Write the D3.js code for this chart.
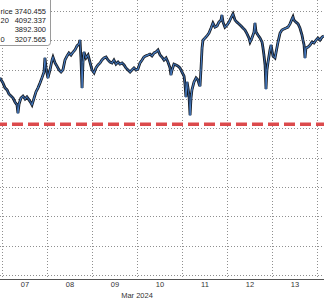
<!DOCTYPE html>
<html><head><meta charset="utf-8">
<script src="https://cdn.jsdelivr.net/npm/d3@7"></script>
<style>html,body{margin:0;padding:0;background:#fff;overflow:hidden}svg{display:block}</style>
</head><body><svg id="c" width="324" height="299"></svg>
<script>
// hours since 2024-03-07 00:00 UTC
const hours = [-1.1,0.5,1.6,2.7,3.7,4.8,5.9,6.9,8.0,8.5,9.1,10.1,11.2,12.3,13.3,14.4,15.5,16.0,17.1,18.1,19.2,20.3,21.3,22.4,22.9,23.5,24.5,25.6,26.7,27.2,28.3,29.3,30.4,31.5,32.5,33.6,34.7,35.7,36.8,37.9,38.9,40.0,41.1,41.6,42.1,42.7,43.2,43.7,44.8,45.9,46.9,48.0,49.1,50.1,51.2,52.3,53.3,54.4,55.5,56.5,57.6,58.7,59.7,60.8,61.9,62.9,64.0,65.1,66.1,67.2,68.3,69.3,70.4,71.5,72.5,73.6,74.7,75.7,76.8,77.9,78.9,80.0,81.1,82.1,83.2,84.3,85.3,86.4,87.5,88.5,89.6,90.1,90.7,91.7,92.8,93.9,94.9,96.0,97.1,97.6,98.1,98.7,99.2,99.7,100.3,100.8,101.3,102.4,103.5,104.5,105.1,105.6,106.1,106.7,107.2,108.3,109.3,110.4,111.5,112.5,113.6,114.7,115.7,116.8,117.3,117.9,118.9,120.0,121.1,122.1,123.2,124.3,125.3,126.4,127.5,128.5,129.6,130.7,131.7,132.3,133.3,134.4,134.9,135.5,136.5,137.6,138.7,139.2,139.7,140.3,140.8,141.3,141.9,142.9,143.5,144.5,145.6,146.1,147.2,148.3,149.3,150.4,151.5,152.5,153.6,154.7,155.2,155.7,156.8,157.9,158.9,160.0,160.5,161.1,161.6,162.1,163.2,164.3,165.3,166.4,167.5,168.5,169.6,170.7,171.7];
const prices = [3872,3855,3838,3831,3817,3810,3803,3790,3780,3752,3783,3803,3810,3800,3807,3797,3786,3780,3803,3824,3838,3855,3872,3892,3940,3906,3872,3899,3933,3943,3923,3912,3899,3892,3899,3933,3947,3957,3950,3960,3967,3981,3988,4001,3940,3838,3926,3960,3940,3950,3926,3899,3889,3906,3916,3923,3933,3940,3943,3933,3926,3923,3933,3919,3926,3919,3923,3916,3906,3899,3892,3899,3906,3899,3902,3923,3933,3943,3947,3950,3953,3947,3957,3960,3967,3950,3943,3933,3940,3926,3906,3882,3899,3919,3916,3912,3906,3892,3878,3851,3807,3858,3838,3814,3745,3803,3831,3858,3872,3865,3851,3844,3899,3974,4001,4008,4015,4025,4042,4059,4045,4049,4062,4069,4086,4062,4045,4052,4062,4076,4090,4069,4062,4056,4049,4042,4035,4022,4008,3994,4008,4028,4059,4028,4018,4008,3994,3974,3950,3916,3834,3899,3926,3967,3984,3947,3940,3957,3994,4025,4035,4039,4042,4045,4056,4073,4080,4069,4062,4056,4042,4018,4001,3984,3940,3974,3977,3984,3994,3991,4001,4008,4001,4011,4015];
const refLevel = 3714;
const dayLabels = ["07","08","09","10","11","12","13"];
const yTicks = [3200,3300,3400,3500,3600,3700,3800,3900,4000,4100];
// legend labels as visible in the cropped reference (left part is cut off there)
const legendLabels = ["rice","20","","0"];
const legendValues = ["3740.455","4092.337","3892.300","3207.565"];
const monthLabel = "Mar 2024";

const t0 = Date.UTC(2024,2,7);
const svg = d3.select("#c");
const x = d3.scaleUtc().domain([new Date(t0), new Date(Date.UTC(2024,2,14))]).range([2, 317]);
const y = d3.scaleLinear().domain([3200, 4100]).range([275, 11]);
const font = "'Liberation Sans', Arial, sans-serif";

// grid
const dayBounds = d3.utcDay.range(new Date(t0), new Date(Date.UTC(2024,2,14,1)));
svg.append("g").selectAll("line").data(dayBounds).join("line")
  .attr("x1", d => Math.round(x(d)) + 0.5).attr("x2", d => Math.round(x(d)) + 0.5)
  .attr("y1", 0).attr("y2", 279)
  .attr("stroke", "#8f8f8f").attr("stroke-width", 1).attr("stroke-dasharray", "1,2");
svg.append("g").selectAll("line").data(yTicks).join("line")
  .attr("x1", 0).attr("x2", 324)
  .attr("y1", d => Math.round(y(d)) + 0.5).attr("y2", d => Math.round(y(d)) + 0.5)
  .attr("stroke", "#8f8f8f").attr("stroke-width", 1).attr("stroke-dasharray", "1,2");

// red reference line
svg.append("line").attr("x1", -4).attr("x2", 324)
  .attr("y1", y(refLevel)).attr("y2", y(refLevel))
  .attr("stroke", "#dc4b4d").attr("stroke-width", 3.5).attr("stroke-dasharray", "11,5");

// price line
const pts = hours.map((h, i) => [x(new Date(t0 + h * 3600e3)), y(prices[i])]);
svg.append("path").attr("d", d3.line()(pts)).attr("fill", "none")
  .attr("stroke", "#15191f").attr("stroke-width", 2.8).attr("stroke-linejoin", "miter");
const segs = d3.pairs(pts);
svg.append("g").selectAll("line").data(segs).join("line")
  .attr("x1", d => d[0][0]).attr("y1", d => d[0][1])
  .attr("x2", d => d[1][0]).attr("y2", d => d[1][1])
  .attr("stroke", d => d[1][1] < d[0][1] ? "#4a80c8" : "#35609c")
  .attr("stroke-width", 1.1).attr("stroke-linecap", "round");

// x axis
const noon = dayLabels.map((d, i) => new Date(t0 + (i * 24 + 12) * 3600e3));
const ax = svg.append("g").attr("transform", "translate(0,279)")
  .call(d3.axisBottom(x).tickValues(noon).tickSize(0).tickPadding(3)
    .tickFormat((d, i) => dayLabels[i]));
ax.select(".domain").remove();
ax.selectAll("text").attr("font-family", font).attr("font-size", 7.5).attr("fill", "#333");
svg.append("line").attr("x1", 0).attr("x2", 324).attr("y1", 279.5).attr("y2", 279.5)
  .attr("stroke", "#555").attr("stroke-width", 1);
svg.append("text").attr("x", 137).attr("y", 298).attr("text-anchor", "middle")
  .attr("font-family", font).attr("font-size", 7.5).attr("fill", "#333").text(monthLabel);

// legend
svg.append("rect").attr("x", -6).attr("y", -6).attr("width", 56.5).attr("height", 51.5)
  .attr("rx", 3).attr("fill", "#fff").attr("stroke", "#9a9a9a").attr("stroke-width", 1);
legendLabels.forEach((l, i) => {
  if (l) svg.append("text").attr("x", 0.5).attr("y", 14 + i * 9.2).attr("text-anchor", "start")
    .attr("font-family", font).attr("font-size", 7.5).attr("fill", "#222").text(l);
  svg.append("text").attr("x", 46).attr("y", 14 + i * 9.2).attr("text-anchor", "end")
    .attr("font-family", font).attr("font-size", 7.5).attr("fill", "#222").text(legendValues[i]);
});
</script></body></html>
